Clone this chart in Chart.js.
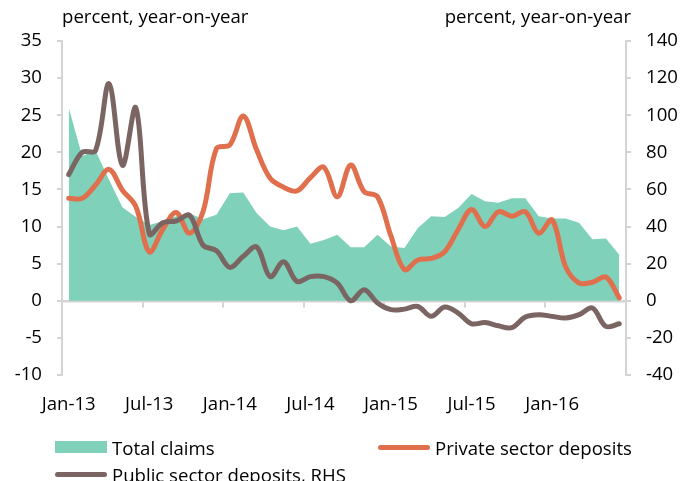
<!DOCTYPE html>
<html>
<head>
<meta charset="utf-8">
<script src="https://cdn.jsdelivr.net/npm/chart.js@4.4.1/dist/chart.umd.min.js"></script>
<style>
  html, body { margin: 0; padding: 0; background: #fff; }
  #wrap { position: relative; width: 680px; height: 481px; overflow: hidden; }
  #legend { position: absolute; left: 0; top: 0; width: 680px; height: 481px; pointer-events: none;
            font-family: "Open Sans", Lato, sans-serif; font-size: 18.6px; color: #000; }
  .item { position: absolute; display: flex; align-items: center; white-space: nowrap; }
  .swatch { width: 52px; margin-right: 5px; }
</style>
</head>
<body>
<div id="wrap">
  <canvas id="claimsChart" width="680" height="481"></canvas>
  <div id="legend"></div>
</div>
<script>
// monthly, Jan-13 .. Jun-16
const months = [
  "Jan-13", "Feb-13", "Mar-13", "Apr-13", "May-13", "Jun-13", "Jul-13", "Aug-13", "Sep-13", "Oct-13", "Nov-13", "Dec-13",
  "Jan-14", "Feb-14", "Mar-14", "Apr-14", "May-14", "Jun-14", "Jul-14", "Aug-14", "Sep-14", "Oct-14", "Nov-14", "Dec-14",
  "Jan-15", "Feb-15", "Mar-15", "Apr-15", "May-15", "Jun-15", "Jul-15", "Aug-15", "Sep-15", "Oct-15", "Nov-15", "Dec-15",
  "Jan-16", "Feb-16", "Mar-16", "Apr-16", "May-16", "Jun-16"
];

const totalClaims = [
  26.0, 19.5, 20.2, 16.3, 12.6, 11.3, 10.2, 10.7, 11.4, 11.8, 11.0, 11.6,
  14.5, 14.6, 11.8, 10.0, 9.5, 10.0, 7.7, 8.2, 8.9, 7.2, 7.2, 8.9,
  7.3, 7.1, 9.8, 11.4, 11.3, 12.5, 14.4, 13.4, 13.2, 13.8, 13.8, 11.4,
  11.1, 11.1, 10.5, 8.3, 8.4, 6.2
];

const privateDeposits = [
  13.8, 13.8, 15.6, 17.7, 14.9, 12.7, 6.6, 9.6, 11.9, 9.1, 12.0, 20.5,
  21.0, 24.9, 20.3, 16.5, 15.3, 14.8, 16.6, 18.0, 14.0, 18.3, 14.7, 14.0,
  8.7, 4.2, 5.5, 5.7, 6.6, 9.6, 12.3, 10.0, 12.0, 11.4, 12.0, 9.1,
  10.9, 4.6, 2.4, 2.5, 3.2, 0.4
];

// right-hand scale
const publicDeposits = [
  68, 80, 81, 117, 73, 104, 36, 42, 43, 46, 30, 27,
  18, 24, 29, 13, 21, 10.4, 13, 13, 9.5, 0, 6, -1.2,
  -4.8, -4.5, -3.1, -8.4, -3.4, -6.6, -12.4, -11.7, -13.5, -14.5, -8.8, -7.5,
  -8.4, -9.3, -7.5, -3.9, -13.8, -12.4
];

const leftTicks = { min: -10, max: 35, step: 5 };
const rightTicks = { min: -40, max: 140, step: 20 };
const unitLabel = "percent, year-on-year";

const GREEN = "#7fd1b9";
const ORANGE = "#e0704d";
const BROWN = "#7a6563";
const AXIS = "#d4d4d4";
const FONT = { family: "'Open Sans', Lato, sans-serif", size: 18.6 };

// unit captions above both value axes
const unitCaptions = {
  id: "unitCaptions",
  afterDraw(chart) {
    const { ctx, chartArea } = chart;
    ctx.save();
    ctx.font = `${FONT.size}px ${FONT.family}`;
    ctx.fillStyle = "#000";
    ctx.textBaseline = "middle";
    ctx.textAlign = "left";
    ctx.fillText(unitLabel, chartArea.left, 18);
    ctx.textAlign = "right";
    ctx.fillText(unitLabel, chartArea.right + 5, 18);
    ctx.restore();
  }
};

const chart = new Chart(document.getElementById("claimsChart"), {
  type: "line",
  data: {
    labels: months,
    datasets: [
      {
        label: "Total claims",
        data: totalClaims,
        yAxisID: "y",
        fill: "origin",
        backgroundColor: GREEN,
        borderWidth: 0,
        pointRadius: 0,
        tension: 0,
        order: 3
      },
      {
        label: "Private sector deposits",
        data: privateDeposits,
        yAxisID: "y",
        borderColor: ORANGE,
        borderWidth: 5,
        borderCapStyle: "round",
        borderJoinStyle: "round",
        pointRadius: 0,
        tension: 0.35,
        fill: false,
        order: 2
      },
      {
        label: "Public sector deposits, RHS",
        data: publicDeposits,
        yAxisID: "y2",
        borderColor: BROWN,
        borderWidth: 5,
        borderCapStyle: "round",
        borderJoinStyle: "round",
        pointRadius: 0,
        tension: 0.35,
        fill: false,
        order: 1
      }
    ]
  },
  options: {
    responsive: false,
    animation: false,
    layout: { padding: { top: 41, bottom: 61, left: 0, right: 0 } },
    plugins: {
      legend: { display: false },
      tooltip: { enabled: false }
    },
    scales: {
      x: {
        type: "category",
        offset: true,
        border: { display: false },
        grid: { display: false, drawTicks: false },
        ticks: {
          autoSkip: false,
          maxRotation: 0,
          padding: 19,
          color: "#000",
          font: FONT,
          callback: (v, i) => (i % 6 === 0 ? months[i] : "")
        },
        afterFit: (s) => { s.height = 45; }
      },
      // axis line drawn through zero with half-year tick marks
      xz: {
        type: "category",
        position: { y: 0 },
        offset: true,
        border: { display: true, color: AXIS, width: 2.5 },
        grid: {
          offset: true,
          drawOnChartArea: false,
          drawTicks: true,
          tickLength: 5,
          lineWidth: 2,
          color: (ctx) => (ctx.index % 6 === 0 ? AXIS : "rgba(0,0,0,0)")
        },
        ticks: { display: false, autoSkip: false }
      },
      y: {
        position: "left",
        min: leftTicks.min,
        max: leftTicks.max,
        border: { color: AXIS, width: 2 },
        grid: { drawOnChartArea: false, tickLength: 5, color: AXIS, lineWidth: 2 },
        ticks: { stepSize: leftTicks.step, padding: 15, color: "#000", font: FONT },
        afterFit: (s) => { s.width = 62; }
      },
      y2: {
        position: "right",
        min: rightTicks.min,
        max: rightTicks.max,
        border: { color: AXIS, width: 2 },
        grid: { drawOnChartArea: false, tickLength: 5, color: AXIS, lineWidth: 2 },
        ticks: { stepSize: rightTicks.step, padding: 15, color: "#000", font: FONT },
        afterFit: (s) => { s.width = 54; }
      }
    }
  },
  plugins: [unitCaptions]
});

// legend laid out in two columns under the plot
const legendSpots = [
  { left: 55, top: 447, kind: "box" },
  { left: 378, top: 447, kind: "line" },
  { left: 55, top: 474, kind: "line" }
];
const legendEl = document.getElementById("legend");
chart.data.datasets.forEach((ds, i) => {
  const spot = legendSpots[i];
  const item = document.createElement("div");
  item.className = "item";
  item.style.left = spot.left + "px";
  item.style.top = (spot.top - 12) + "px";
  item.style.height = "24px";
  const sw = document.createElement("span");
  sw.className = "swatch";
  if (spot.kind === "box") {
    sw.style.height = "12px";
    sw.style.background = ds.backgroundColor;
  } else {
    sw.style.height = "5px";
    sw.style.borderRadius = "3px";
    sw.style.background = ds.borderColor;
  }
  const txt = document.createElement("span");
  txt.textContent = ds.label;
  item.appendChild(sw);
  item.appendChild(txt);
  legendEl.appendChild(item);
});
</script>
</body>
</html>
